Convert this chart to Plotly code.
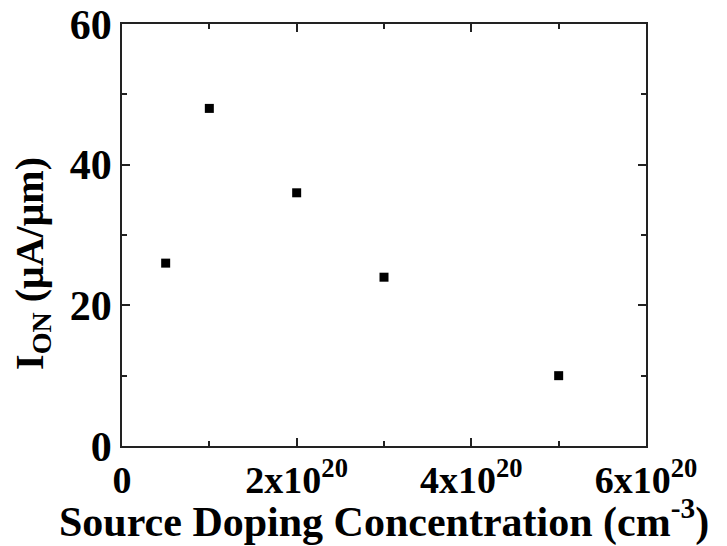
import plotly.graph_objects as go

doping = [0.5e20, 1e20, 2e20, 3e20, 5e20]
ion = [26, 48, 36, 24, 10]

x_tickvals = [0, 2e20, 4e20, 6e20]
x_ticktext = ["0", "2x10<sup>20</sup>", "4x10<sup>20</sup>", "6x10<sup>20</sup>"]
y_tickvals = [0, 20, 40, 60]
y_ticktext = ["0", "20", "40", "60"]

x_title = "<b>Source Doping Concentration (cm<sup>-3</sup>)</b>"
y_title = "<b>I<sub>ON</sub> (μA/μm)</b>"

font_family = "Liberation Serif, Times New Roman, serif"

fig = go.Figure()
fig.add_trace(go.Scatter(
    x=doping, y=ion, mode="markers",
    marker=dict(symbol="square", size=9, color="black"),
    showlegend=False,
))

axis_common = dict(
    showgrid=False, zeroline=False, showline=True, linecolor="#222", linewidth=1.5,
    mirror="allticks", ticks="inside", ticklen=8, tickwidth=1.5, tickcolor="#222",
    automargin=False, ticklabeloverflow="allow",
)

fig.update_layout(
    width=719, height=538,
    margin=dict(l=114, r=81, t=16, b=100),
    plot_bgcolor="white", paper_bgcolor="white",
    font=dict(family=font_family, color="black"),
    xaxis=dict(
        range=[0, 6e20], tickvals=x_tickvals, ticktext=x_ticktext,
        tickfont=dict(size=38, family=font_family, weight="bold"),
        minor=dict(tickvals=[1e20, 3e20, 5e20], ticks="inside", ticklen=5, tickwidth=1.5, tickcolor="#222"),
        **axis_common,
    ),
    yaxis=dict(
        range=[0, 60], tickvals=y_tickvals, ticktext=y_ticktext,
        tickfont=dict(size=42, family=font_family, weight="bold"),
        minor=dict(tickvals=[10, 30, 50], ticks="inside", ticklen=5, tickwidth=1.5, tickcolor="#222"),
        **axis_common,
    ),
    annotations=[
        dict(text=x_title, xref="paper", yref="paper", x=0.5, y=-0.173,
             xanchor="center", yanchor="middle", showarrow=False,
             font=dict(size=42, family=font_family, color="black")),
        dict(text=y_title, xref="paper", yref="paper", x=-0.172, y=0.4336,
             xanchor="center", yanchor="middle", textangle=-90, showarrow=False,
             font=dict(size=40, family=font_family, color="black")),
    ],
)

fig.write_html("out.html")
